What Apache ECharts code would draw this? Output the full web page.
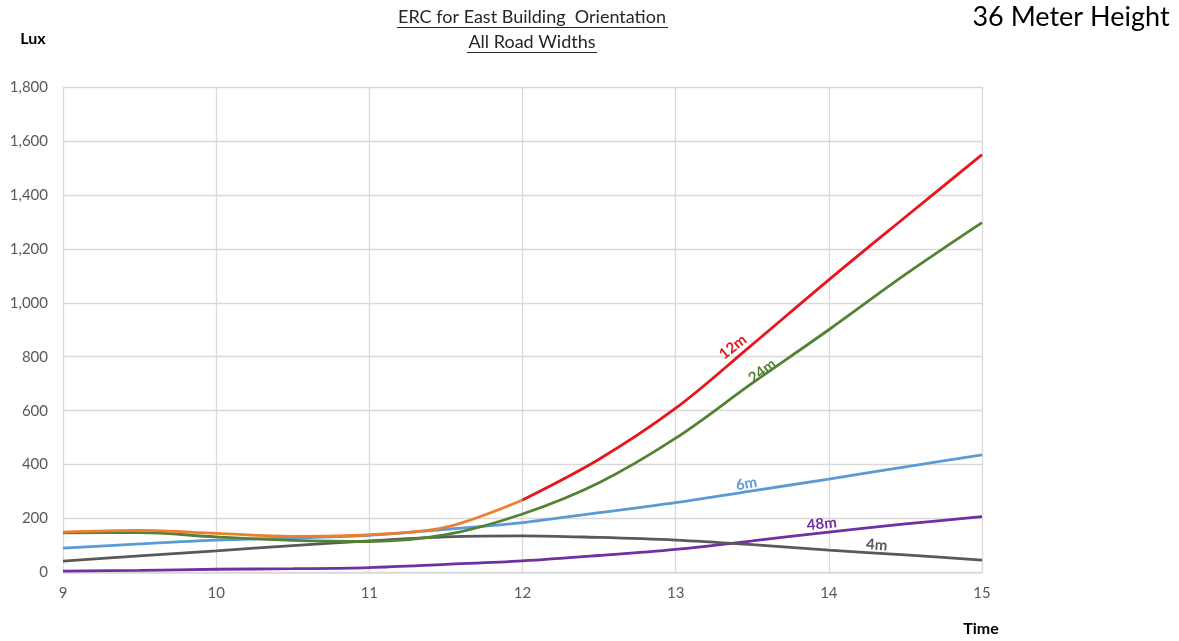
<!DOCTYPE html>
<html><head><meta charset="utf-8">
<script src="https://cdn.jsdelivr.net/npm/echarts@6/dist/echarts.min.js"></script>
<style>html,body{margin:0;padding:0;background:#fff}#c{width:1179px;height:641px}</style>
</head><body><div id="c"></div>
<script>
const times = [9, 9.5, 10, 10.5, 11, 11.5, 12, 12.5, 13, 13.5, 14, 14.5, 15];
const w12early = [150, 156, 145, 134, 140, 168, 269, null, null, null, null, null, null];
const w12late  = [null, null, null, null, null, null, 269, 420, 609, 845, 1085, 1318, 1549];
const w24 = [147, 148, 132, 119, 115, 140, 217, 333, 498, 702, 900, 1105, 1297];
const w6  = [90, 106, 120, 128, 138, 160, 185, 222, 259, 303, 346, 392, 436];
const w48 = [5, 8, 12, 14, 18, 30, 43, 63, 86, 117, 150, 180, 207];
const w4  = [42, 62, 80, 100, 117, 132, 136, 130, 120, 103, 83, 65, 46];
const yTicks = [0, 200, 400, 600, 800, 1000, 1200, 1400, 1600, 1800];
const xTicks = [9, 10, 11, 12, 13, 14, 15];

const FONT = 'Lato, "Open Sans", sans-serif';
function pairs(arr){ return times.map((t,i)=>[t,arr[i]]).filter(p=>p[1]!==null); }
function lbl(text, t, v, color, rot, dy){
  return {data:[{coord:[t,v], symbol:'circle', symbolSize:0,
    label:{show:true, formatter:text, color:color, fontWeight:'bold', fontSize:15, fontFamily:FONT,
      rotate:rot, position:'inside', offset:[0,dy]}}], silent:true, animation:false};
}
function s(name, data, color, mp){
  return {name, type:'line', data:pairs(data), smooth:0.35, showSymbol:false, symbol:'none',
    lineStyle:{color, width:2.8}, itemStyle:{color}, animation:false, z:2, markPoint: mp};
}
const chart = echarts.init(document.getElementById('c'));
chart.setOption({
  backgroundColor:'#fff',
  animation:false,
  grid:{left:63, right:197, top:87, bottom:68.5, containLabel:false},
  xAxis:{type:'value', min:9, max:15, interval:1,
    axisLine:{show:true, lineStyle:{color:'#d9d9d9', width:1.5}},
    axisTick:{show:false},
    splitLine:{show:true, lineStyle:{color:'#d9d9d9', width:1.3}},
    axisLabel:{color:'#595959', fontSize:15, fontFamily:FONT, margin:13,
      formatter:v=>xTicks.includes(v)?String(v):''}},
  yAxis:{type:'value', min:0, max:1800, interval:200,
    axisLine:{show:false}, axisTick:{show:false},
    splitLine:{show:true, lineStyle:{color:'#d9d9d9', width:1.3}},
    axisLabel:{color:'#595959', fontSize:15, fontFamily:FONT, margin:15,
      formatter:v=>yTicks.includes(v)?v.toLocaleString('en-US'):''}},
  series:[
    s('48m', w48, '#7030a0', lbl('48m', 13.96, 147, '#7030a0', 6, -9)),
    s('4m', w4, '#595959', lbl('4m', 14.31, 76, '#595959', -4, -7)),
    s('6m', w6, '#5b9bd5', lbl('6m', 13.47, 300, '#5b9bd5', 9, -8)),
    s('24m', w24, '#548235', lbl('24m', 13.58, 735, '#548235', 36, -4)),
    s('12m early', w12early, '#ed7d31'),
    s('12m', w12late, '#e8151b', lbl('12m', 13.41, 810, '#e8151b', 38, -9))
  ],
  graphic:[
    {type:'text', x:532, y:8, style:{text:'ERC for East Building  Orientation', fontSize:18, fontFamily:FONT, fill:'#262626', align:'center'}},
    {type:'text', x:532, y:33, style:{text:'All Road Widths', fontSize:18, fontFamily:FONT, fill:'#262626', align:'center'}},
    {type:'text', x:1071, y:4, style:{text:'36 Meter Height', fontSize:27, fontFamily:FONT, fill:'#000', align:'center'}},
    {type:'text', x:33, y:31, style:{text:'Lux', fontSize:16, fontWeight:'bold', fontFamily:FONT, fill:'#000', align:'center'}},
    {type:'text', x:981, y:621, style:{text:'Time', fontSize:16, fontWeight:'bold', fontFamily:FONT, fill:'#000', align:'center'}},
    {type:'line', shape:{x1:397, y1:27.5, x2:668, y2:27.5}, style:{stroke:'#262626', lineWidth:1}},
    {type:'line', shape:{x1:467, y1:52.5, x2:597, y2:52.5}, style:{stroke:'#262626', lineWidth:1}}
  ]
});
</script></body></html>
